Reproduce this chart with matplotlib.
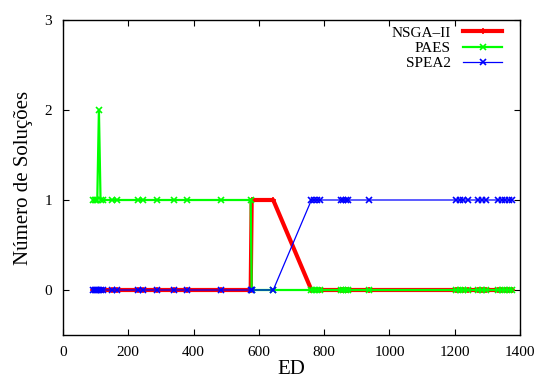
import matplotlib
matplotlib.use("Agg")
import matplotlib.pyplot as plt

# ED values where solutions were counted
ed = [92, 97, 101, 105, 110, 115, 123, 149, 164, 231, 246, 289, 341, 380,
      484, 575, 578, 644, 761, 770, 779, 787, 851, 858, 866, 873, 938,
      1205, 1215, 1225, 1241, 1272, 1285, 1297, 1333, 1345, 1355, 1365, 1374]

nsga2 = [0, 0, 0, 0, 0, 0, 0, 0, 0, 0, 0, 0, 0, 0,
         0, 0, 1, 1, 0, 0, 0, 0, 0, 0, 0, 0, 0,
         0, 0, 0, 0, 0, 0, 0, 0, 0, 0, 0, 0]
paes = [1, 1, 1, 1, 2, 1, 1, 1, 1, 1, 1, 1, 1, 1,
        1, 1, 0, 0, 0, 0, 0, 0, 0, 0, 0, 0, 0,
        0, 0, 0, 0, 0, 0, 0, 0, 0, 0, 0, 0]
spea2 = [0, 0, 0, 0, 0, 0, 0, 0, 0, 0, 0, 0, 0, 0,
         0, 0, 0, 0, 1, 1, 1, 1, 1, 1, 1, 1, 1,
         1, 1, 1, 1, 1, 1, 1, 1, 1, 1, 1, 1]

plt.rcParams['font.family'] = ['Liberation Serif', 'DejaVu Serif']

fig = plt.figure(figsize=(5.39, 3.83), dpi=100)
ax = fig.add_axes([63/539, 48/383, 457/539, 315/383])

ax.plot(ed, nsga2, color='#ff0000', lw=3.0, marker='+', ms=4, mew=1.2, label='NSGA–II')
ax.plot(ed, paes, color='#00ff00', lw=1.6, marker='x', ms=4, mew=1.2, label='PAES')
ax.plot(ed, spea2, color='#0000ff', lw=0.9, marker='x', ms=4, mew=1.2, label='SPEA2')

ax.set_xlim(0, 1400)
ax.set_ylim(-0.5, 3)
ax.set_xticks(range(0, 1401, 200))
ax.set_yticks([0, 1, 2, 3])
ax.tick_params(direction='in', top=True, right=True, length=4, width=0.8, labelsize=11, pad=8)
for s in ax.spines.values():
    s.set_linewidth(1.0)

ax.set_xlabel('ED', fontsize=15, labelpad=1)
ax.set_ylabel('Número de Soluções', fontsize=15, labelpad=8)

ax.legend(loc='upper right', frameon=False, markerfirst=False, fontsize=11,
          handlelength=2.6, handletextpad=0.8, labelspacing=0.1,
          borderaxespad=0.3, bbox_to_anchor=(0.985, 1.015))

fig.savefig('out.png', dpi=100)
